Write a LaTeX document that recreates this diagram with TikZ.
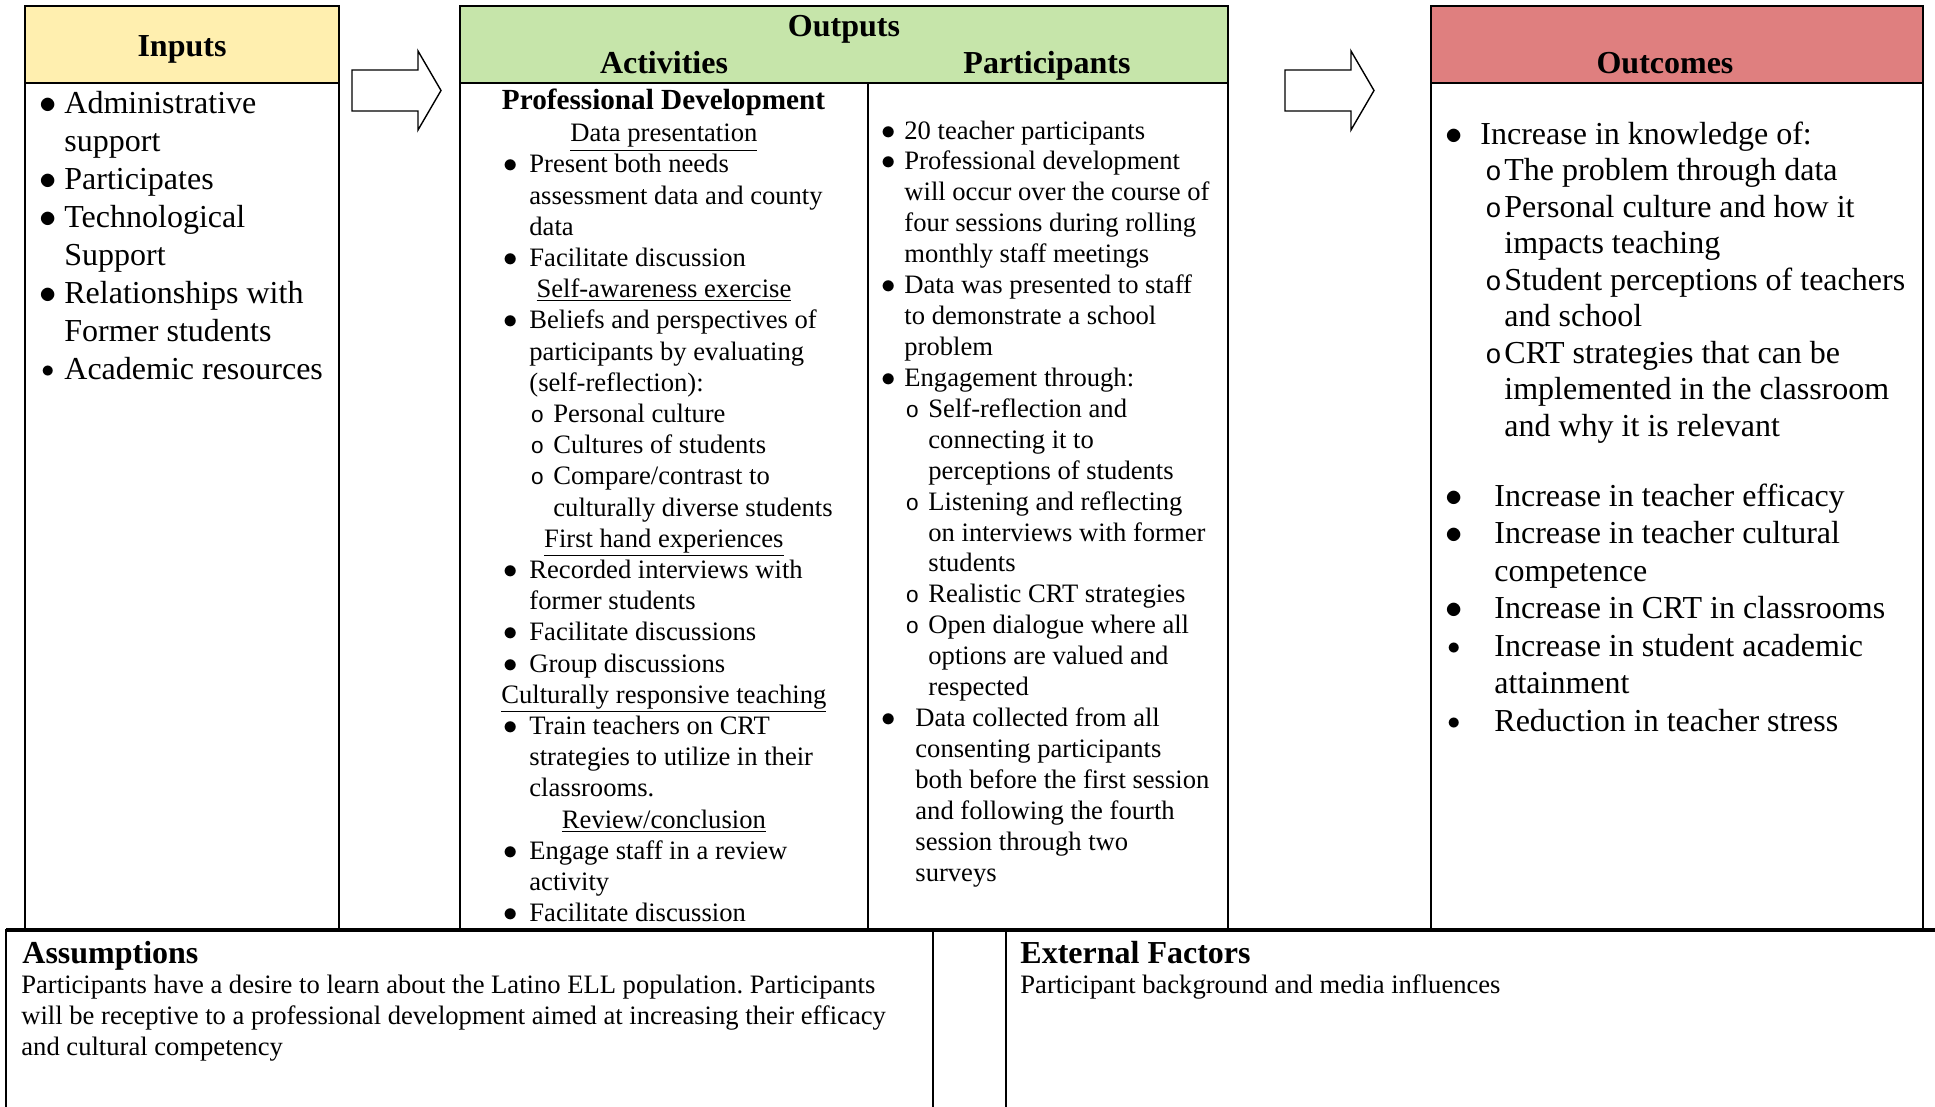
\documentclass[tikz,border=0pt]{standalone}
\usepackage{fontspec}
\setmainfont{Liberation Serif}
\newfontfamily\monofont{Liberation Mono}
\usetikzlibrary{positioning}
\frenchspacing

\definecolor{inyellow}{HTML}{FFEFAF}
\definecolor{outgreen}{HTML}{C6E5AA}
\definecolor{outcred}{HTML}{DF7F7F}

\newlength{\bulw}\newlength{\subx}\newlength{\subw}
\newcommand{\bul}{\makebox[\bulw][l]{\hspace*{-.075em}$\bullet$}}
\newcommand{\sbul}{\makebox[\bulw][l]{\hspace*{-.01em}\raisebox{.06em}{\scalebox{.75}{$\bullet$}}}}
\newcommand{\cont}{\hspace*{\bulw}}
\newcommand{\subo}{\hspace*{\subx}\makebox[\subw][l]{\hspace*{.045em}\scalebox{.85}{\monofont o}}}
\newcommand{\subcont}{\hspace*{\dimexpr\subx+\subw\relax}}
\newcommand{\uhead}[1]{\makebox[158.2pt][c]{\underline{#1}}}

\begin{document}
\begin{tikzpicture}[
    x=0.5pt,y=-0.5pt,
    boxline/.style={draw=black,line width=1.1pt},
    blockarrow/.style={draw=black,line width=0.7pt,fill=white,line join=miter},
    hdr/.style={inner sep=0pt,anchor=base,font=\bfseries\fontsize{16}{19}\selectfont},
    listtext/.style={inner sep=0pt,anchor=north west,align=left},
    inlist/.style={listtext,font=\fontsize{16}{19}\selectfont\setlength{\bulw}{11.3pt}},
    actlist/.style={listtext,font=\fontsize{13.3}{15.6}\selectfont\setlength{\bulw}{11.85pt}\setlength{\subx}{11.85pt}\setlength{\subw}{12pt}},
    partlist/.style={listtext,font=\fontsize{13.3}{15.46}\selectfont\setlength{\bulw}{10.35pt}\setlength{\subx}{10.35pt}\setlength{\subw}{12pt}},
    outlist/.style={listtext,font=\fontsize{16}{18.25}\selectfont\setlength{\bulw}{16.3pt}\setlength{\subx}{18pt}\setlength{\subw}{10.3pt}},
    outlistb/.style={listtext,font=\fontsize{16}{18.75}\selectfont\setlength{\bulw}{23.3pt}},
    plain/.style={listtext,font=\fontsize{13.3}{15.5}\selectfont}
]
    \clip (0,0) rectangle (1935,1107);

    \fill[inyellow] (25,6) rectangle (339,83);
    \fill[outgreen] (460,6) rectangle (1228,83);
    \fill[outcred] (1431,6) rectangle (1923,83);

    \draw[boxline] (25,6) rectangle (339,930);
    \draw[boxline] (25,83) -- (339,83);
    \draw[boxline] (460,6) rectangle (1228,930);
    \draw[boxline] (460,83) -- (1228,83);
    \draw[boxline] (868,83) -- (868,930);
    \draw[boxline] (1431,6) rectangle (1923,930);
    \draw[boxline] (1431,83) -- (1923,83);

    \draw[boxline] (6,1130) -- (6,930) -- (933,930) -- (933,1130);
    \draw[boxline] (1006,1130) -- (1006,930) -- (1950,930);
    \draw[line width=2.2pt] (6,930) -- (1950,930);

    \foreach \ax in {352,1285}
        \draw[blockarrow] (\ax,70) -- ++(66,0) -- ++(0,-19) -- ++(23,39.5) -- ++(-23,39.5) -- ++(0,-19) -- ++(-66,0) -- cycle;

    \node[hdr] (inhdr) at (182,57) {Inputs};
    \node[hdr] (outhdr) at (844,37) {Outputs};
    \node[hdr] (acthdr) at (664,74) {Activities};
    \node[hdr] (parthdr) at (1047,74) {Participants};
    \node[hdr] (outchdr) at (1665,74) {Outcomes};

    \node[inlist] (inputs) at (41.4,86.4) {\strut\bul Administrative\\
        \cont support\\
        \bul Participates\\
        \bul Technological\\
        \cont Support\\
        \bul Relationships with\\
        \cont Former students\\
        \sbul Academic resources};

    \node[hdr,font=\bfseries\fontsize{14.6}{17}\selectfont] (profdev) at (663.5,110) {Professional Development};
    \node[actlist] (activities) at (505.3,119.5) {\strut\uhead{Data presentation}\\
        \bul Present both needs\\
        \cont assessment data and county\\
        \cont data\\
        \bul Facilitate discussion\\
        \uhead{Self-awareness exercise}\\
        \bul Beliefs and perspectives of\\
        \cont participants by evaluating\\
        \cont (self-reflection):\\
        \subo Personal culture\\
        \subo Cultures of students\\
        \subo Compare/contrast to\\
        \subcont culturally diverse students\\
        \uhead{First hand experiences}\\
        \bul Recorded interviews with\\
        \cont former students\\
        \bul Facilitate discussions\\
        \bul Group discussions\\
        \uhead{Culturally responsive teaching}\\
        \bul Train teachers on CRT\\
        \cont strategies to utilize in their\\
        \cont classrooms.\\
        \uhead{Review/conclusion}\\
        \bul Engage staff in a review\\
        \cont activity\\
        \bul Facilitate discussion};

    \node[partlist] (participants) at (883.3,117) {\strut\bul 20 teacher participants\\
        \bul Professional development\\
        \cont will occur over the course of\\
        \cont four sessions during rolling\\
        \cont monthly staff meetings\\
        \bul Data was presented to staff\\
        \cont to demonstrate a school\\
        \cont problem\\
        \bul Engagement through:\\
        \subo Self-reflection and\\
        \subcont connecting it to\\
        \subcont perceptions of students\\
        \subo Listening and reflecting\\
        \subcont on interviews with former\\
        \subcont students\\
        \subo Realistic CRT strategies\\
        \subo Open dialogue where all\\
        \subcont options are valued and\\
        \subcont respected\\
        \bul\hspace*{5.5pt}Data collected from all\\
        \cont\hspace*{5.5pt}consenting participants\\
        \cont\hspace*{5.5pt}both before the first session\\
        \cont\hspace*{5.5pt}and following the fourth\\
        \cont\hspace*{5.5pt}session through two\\
        \cont\hspace*{5.5pt}surveys};

    \node[outlist] (knowledge) at (1447.4,118.5) {\strut\bul Increase in knowledge of:\\
        \subo The problem through data\\
        \subo Personal culture and how it\\
        \subcont impacts teaching\\
        \subo Student perceptions of teachers\\
        \subcont and school\\
        \subo CRT strategies that can be\\
        \subcont implemented in the classroom\\
        \subcont and why it is relevant};

    \node[outlistb] (gains) at (1447.4,479.8) {\strut\bul Increase in teacher efficacy\\
        \bul Increase in teacher cultural\\
        \cont competence\\
        \bul Increase in CRT in classrooms\\
        \sbul Increase in student academic\\
        \cont attainment\\
        \sbul Reduction in teacher stress};

    \node[hdr,anchor=base west] (assumehdr) at (22,963) {Assumptions};
    \node[plain] (assumetxt) at (21,971.3) {\strut Participants have a desire to learn about the Latino ELL population. Participants\\
        will be receptive to a professional development aimed at increasing their efficacy\\
        and cultural competency};

    \node[hdr,anchor=base west] (exthdr) at (1020,963) {External Factors};
    \node[plain] (exttxt) at (1020,971.3) {\strut Participant background and media influences};
\end{tikzpicture}
\end{document}
